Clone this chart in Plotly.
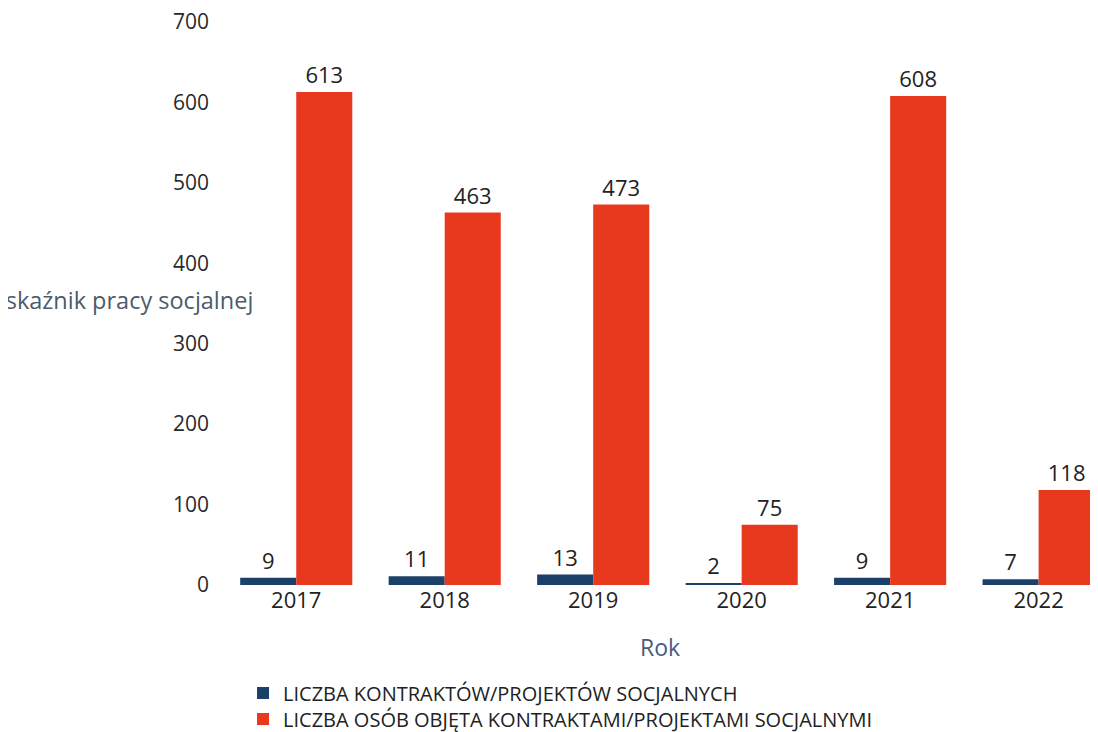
import plotly.graph_objects as go

years = ["2017", "2018", "2019", "2020", "2021", "2022"]
kontrakty = [9, 11, 13, 2, 9, 7]
osoby = [613, 463, 473, 75, 608, 118]
series_names = ["LICZBA KONTRAKTÓW/PROJEKTÓW SOCJALNYCH",
                "LICZBA OSÓB OBJĘTA KONTRAKTAMI/PROJEKTAMI SOCJALNYMI"]
y_ticks = [0, 100, 200, 300, 400, 500, 600, 700]

font_family = "Open Sans, Noto Sans, sans-serif"

fig = go.Figure()
fig.add_trace(go.Bar(
    x=years, y=kontrakty, name=series_names[0], legend="legend",
    marker=dict(color="#1c4169", line=dict(width=0)),
    text=[str(v) for v in kontrakty], textposition="outside",
    textfont=dict(size=22, color="#222222", family=font_family),
    cliponaxis=False,
))
fig.add_trace(go.Bar(
    x=years, y=osoby, name=series_names[1], legend="legend2",
    marker=dict(color="#e8391f", line=dict(width=0)),
    text=[str(v) for v in osoby], textposition="outside",
    textfont=dict(size=22, color="#222222", family=font_family),
    cliponaxis=False,
))

legend_common = dict(
    xanchor="left", yanchor="middle", orientation="v",
    font=dict(size=20, color="#222222", family=font_family),
    itemwidth=30, bgcolor="rgba(0,0,0,0)",
)

fig.update_layout(
    width=1090, height=724,
    margin=dict(l=214, r=0, t=14, b=147, autoexpand=False),
    paper_bgcolor="white", plot_bgcolor="white",
    barmode="group", bargap=0.245, bargroupgap=0,
    font=dict(family=font_family, color="#222222"),
    showlegend=True,
    legend=dict(x=0.024, y=-0.192, **legend_common),
    legend2=dict(x=0.024, y=-0.238, **legend_common),
    xaxis=dict(
        type="category", range=[-0.5, 5.40], automargin=False,
        showgrid=False, showline=False, zeroline=False,
        ticks="", tickfont=dict(size=22, color="#222222"),
        ticklabeloverflow="allow",
        title=dict(text="Rok", font=dict(size=23, color="#4a5a7e"), standoff=26),
    ),
    yaxis=dict(
        range=[0, 700], tickvals=y_ticks, automargin=False,
        showgrid=False, showline=False, zeroline=False,
        ticks="", ticklabelstandoff=12, ticklabeloverflow="allow",
        tickfont=dict(size=21, color="#2a2a2a"),
    ),
    annotations=[dict(
        text="Wskaźnik pracy socjalnej", xref="paper", yref="paper",
        x=0.0377, y=0.506, xanchor="right", yanchor="middle",
        showarrow=False, font=dict(size=23.5, color="#4d5a6a"),
    )],
)

fig.write_html("out.html")
